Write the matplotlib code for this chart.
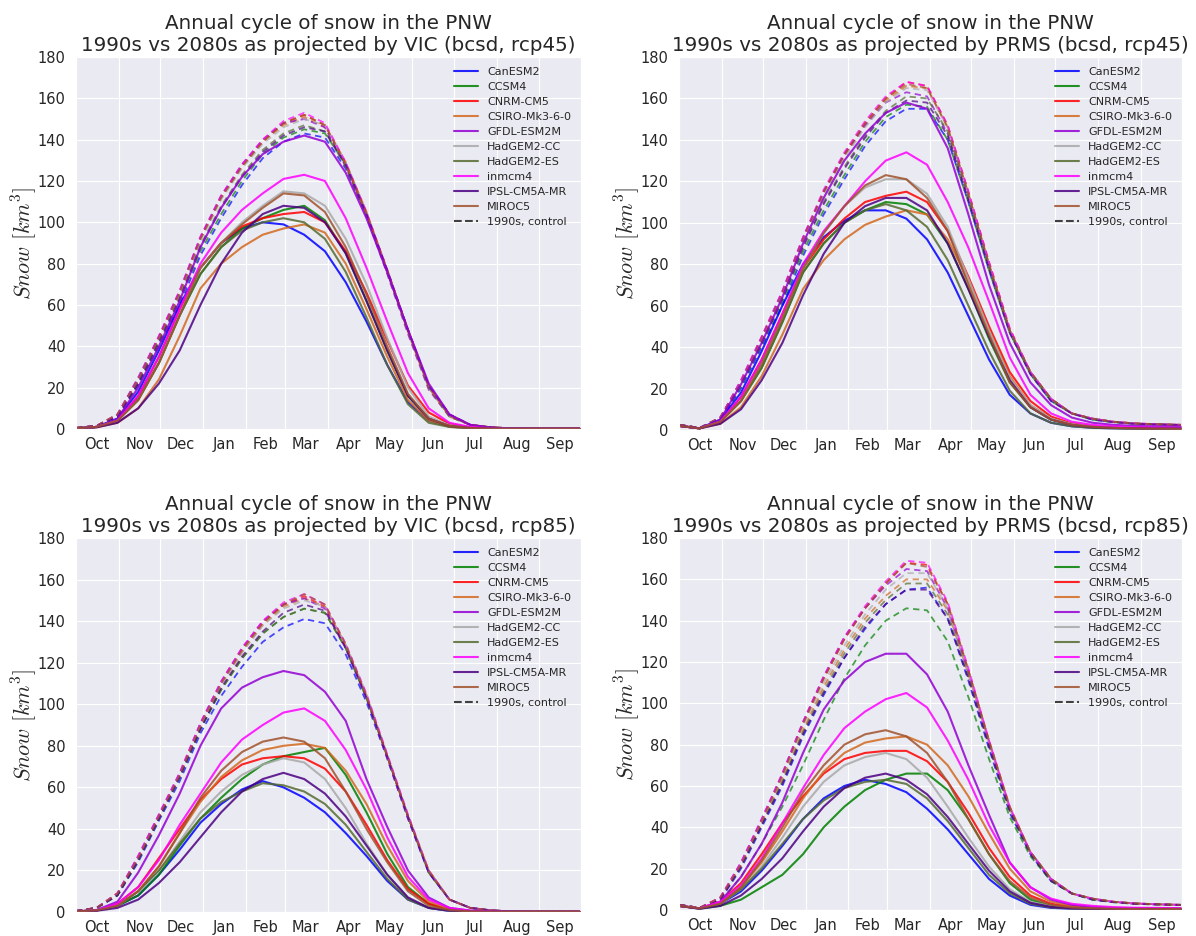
"""
plot.py — Annual cycle of PNW snow volume, 1990s control vs 2080s projections.

Four panels: VIC / PRMS hydrology models under rcp45 and rcp85 (bcsd downscaling).
"""

import matplotlib
matplotlib.use("Agg")
import matplotlib.pyplot as plt
import seaborn as sns
from matplotlib.lines import Line2D


# ──────────────────────────────────────────────────────────────────────
# DATA  (snow volume in km^3, sampled every ~15 days from 1 Oct)
# ──────────────────────────────────────────────────────────────────────

days = [0, 15, 30, 45, 60, 75, 90, 105, 120, 135, 150, 165, 180,
        195, 210, 225, 240, 255, 270, 285, 300, 315, 330, 345, 364]

month_starts = [0, 31, 61, 92, 123, 151, 182, 212, 243, 273, 304, 335, 365]
month_mids = [15, 46, 76, 107, 137, 166, 197, 227, 258, 288, 319, 350]
month_names = ["Oct", "Nov", "Dec", "Jan", "Feb", "Mar",
               "Apr", "May", "Jun", "Jul", "Aug", "Sep"]

models = ["CanESM2", "CCSM4", "CNRM-CM5", "CSIRO-Mk3-6-0", "GFDL-ESM2M",
          "HadGEM2-CC", "HadGEM2-ES", "inmcm4", "IPSL-CM5A-MR", "MIROC5"]
colors = ["blue", "green", "red", "chocolate", "darkviolet",
          "darkgray", "darkolivegreen", "magenta", "indigo", "sienna"]

# VIC, rcp45
vic45_2080s = {
    "CanESM2":       [0.3, 1, 5, 18, 38, 60, 78, 90, 97, 100, 99, 94, 86, 71, 52, 31, 13, 4, 1.2, 0.4, 0.2, 0.1, 0.1, 0.1, 0.1],
    "CCSM4":         [0.3, 1, 4, 15, 32, 55, 75, 88, 97, 102, 106, 108, 101, 85, 62, 38, 16, 5, 1.5, 0.5, 0.2, 0.1, 0.1, 0.1, 0.1],
    "CNRM-CM5":      [0.3, 1, 4, 16, 35, 58, 78, 90, 98, 102, 104, 105, 100, 86, 66, 43, 21, 8, 2.5, 0.8, 0.3, 0.1, 0.1, 0.1, 0.1],
    "CSIRO-Mk3-6-0": [0.3, 0.8, 3, 10, 24, 45, 68, 80, 88, 94, 97, 99, 95, 80, 58, 35, 14, 4, 1, 0.4, 0.2, 0.1, 0.1, 0.1, 0.1],
    "GFDL-ESM2M":    [0.3, 1, 5, 20, 40, 62, 88, 107, 122, 133, 139, 142, 139, 124, 102, 76, 48, 22, 7, 2, 0.6, 0.2, 0.1, 0.1, 0.1],
    "HadGEM2-CC":    [0.3, 1, 4, 14, 32, 55, 78, 90, 100, 108, 115, 114, 108, 92, 70, 44, 20, 6, 1.8, 0.6, 0.2, 0.1, 0.1, 0.1, 0.1],
    "HadGEM2-ES":    [0.3, 1, 4, 14, 32, 55, 75, 88, 96, 100, 102, 100, 92, 76, 54, 31, 12, 3, 1, 0.3, 0.1, 0.1, 0.1, 0.1, 0.1],
    "inmcm4":        [0.3, 1, 4, 16, 35, 58, 80, 95, 106, 114, 121, 123, 120, 102, 78, 52, 27, 10, 3, 1, 0.3, 0.1, 0.1, 0.1, 0.1],
    "IPSL-CM5A-MR":  [0.3, 0.8, 3, 10, 22, 38, 60, 80, 95, 104, 108, 107, 100, 85, 62, 38, 16, 5, 1.5, 0.5, 0.2, 0.1, 0.1, 0.1, 0.1],
    "MIROC5":        [0.3, 1, 4, 14, 32, 55, 78, 90, 99, 107, 114, 113, 105, 88, 65, 40, 17, 5, 1.5, 0.5, 0.2, 0.1, 0.1, 0.1, 0.1],
}
vic45_1990s = {
    "CanESM2":       [0.5, 1.5, 6, 21, 40, 60, 84, 102, 118, 131, 139, 143, 141, 126, 103, 76, 48, 21, 7, 2, 0.8, 0.3, 0.2, 0.2, 0.2],
    "CCSM4":         [0.5, 1.5, 6, 22, 41, 62, 86, 104, 120, 133, 141, 145, 143, 128, 104, 77, 48, 21, 7, 2, 0.8, 0.3, 0.2, 0.2, 0.2],
    "CNRM-CM5":      [0.5, 1.5, 7, 24, 44, 66, 92, 112, 127, 139, 148, 152, 147, 129, 105, 77, 48, 21, 7, 2, 0.8, 0.3, 0.2, 0.2, 0.2],
    "CSIRO-Mk3-6-0": [0.5, 1.5, 7, 24, 44, 66, 92, 112, 127, 139, 147, 151, 146, 128, 104, 76, 47, 20, 6, 2, 0.8, 0.3, 0.2, 0.2, 0.2],
    "GFDL-ESM2M":    [0.5, 1.5, 7, 25, 45, 67, 93, 113, 128, 140, 148, 150, 146, 127, 103, 75, 46, 19, 6, 2, 0.8, 0.3, 0.2, 0.2, 0.2],
    "HadGEM2-CC":    [0.5, 1.5, 7, 23, 43, 65, 91, 111, 126, 138, 146, 150, 147, 129, 105, 77, 48, 21, 7, 2, 0.8, 0.3, 0.2, 0.2, 0.2],
    "HadGEM2-ES":    [0.5, 1.5, 7, 23, 43, 64, 89, 108, 123, 135, 143, 147, 144, 127, 104, 76, 47, 20, 6, 2, 0.8, 0.3, 0.2, 0.2, 0.2],
    "inmcm4":        [0.5, 1.5, 7, 24, 45, 67, 93, 113, 128, 140, 149, 153, 148, 129, 105, 77, 48, 21, 7, 2, 0.8, 0.3, 0.2, 0.2, 0.2],
    "IPSL-CM5A-MR":  [0.5, 1.5, 6, 22, 42, 63, 88, 107, 122, 134, 142, 146, 144, 128, 104, 77, 48, 21, 7, 2, 0.8, 0.3, 0.2, 0.2, 0.2],
    "MIROC5":        [0.5, 1.5, 7, 24, 44, 66, 92, 112, 127, 139, 148, 152, 147, 128, 104, 76, 47, 20, 6, 2, 0.8, 0.3, 0.2, 0.2, 0.2],
}

# PRMS, rcp45
prms45_2080s = {
    "CanESM2":       [2, 0.8, 5, 18, 38, 60, 80, 93, 101, 106, 106, 102, 92, 76, 55, 34, 17, 8, 3.5, 1.8, 1.1, 0.8, 0.7, 0.6, 0.6],
    "CCSM4":         [2, 0.8, 4, 14, 30, 52, 76, 90, 100, 106, 110, 109, 104, 90, 68, 44, 23, 11, 5, 2.5, 1.4, 1, 0.8, 0.7, 0.7],
    "CNRM-CM5":      [2, 0.8, 4, 16, 34, 56, 78, 92, 102, 110, 113, 115, 110, 96, 74, 50, 28, 14, 6.5, 3.2, 1.8, 1.2, 1, 0.9, 0.8],
    "CSIRO-Mk3-6-0": [2, 0.8, 3, 11, 26, 46, 68, 82, 92, 99, 103, 106, 104, 92, 72, 48, 26, 12, 5.5, 2.8, 1.6, 1.1, 0.9, 0.8, 0.7],
    "GFDL-ESM2M":    [2, 0.8, 5, 22, 42, 64, 90, 112, 130, 143, 153, 158, 155, 136, 104, 70, 42, 23, 12, 6, 3.5, 2.5, 2, 1.8, 1.6],
    "HadGEM2-CC":    [2, 0.8, 4, 14, 32, 54, 78, 95, 108, 117, 121, 121, 114, 98, 73, 48, 25, 12, 5.5, 2.8, 1.6, 1.1, 0.9, 0.8, 0.7],
    "HadGEM2-ES":    [2, 0.8, 4, 14, 30, 52, 76, 90, 100, 106, 109, 106, 98, 82, 60, 38, 19, 8, 3.5, 1.8, 1, 0.8, 0.7, 0.6, 0.6],
    "inmcm4":        [2, 0.8, 4, 16, 34, 56, 80, 96, 108, 120, 130, 134, 128, 110, 88, 62, 35, 17, 8, 4, 2.5, 1.8, 1.4, 1.2, 1],
    "IPSL-CM5A-MR":  [2, 0.8, 3, 10, 24, 42, 65, 85, 100, 108, 112, 112, 106, 90, 68, 45, 24, 11, 5, 2.5, 1.4, 1, 0.8, 0.7, 0.7],
    "MIROC5":        [2, 0.8, 4, 14, 32, 54, 78, 95, 108, 118, 123, 121, 112, 96, 70, 46, 23, 11, 5, 2.5, 1.5, 1, 0.8, 0.7, 0.6],
}
prms45_1990s = {
    "CanESM2":       [2.5, 1, 5, 20, 40, 60, 84, 104, 121, 137, 149, 155, 155, 140, 110, 77, 47, 27, 14, 8, 5, 3.8, 3, 2.7, 2.4],
    "CCSM4":         [2.5, 1, 5, 21, 41, 62, 86, 106, 123, 139, 151, 157, 156, 140, 110, 77, 47, 27, 14, 8, 5, 3.8, 3, 2.7, 2.4],
    "CNRM-CM5":      [2.5, 1, 6, 23, 44, 66, 92, 115, 133, 148, 160, 168, 166, 147, 115, 81, 49, 28, 15, 8, 5.5, 4, 3.2, 2.8, 2.5],
    "CSIRO-Mk3-6-0": [2.5, 1, 6, 23, 44, 66, 92, 114, 132, 147, 159, 166, 165, 146, 114, 80, 48, 28, 15, 8, 5.5, 4, 3.2, 2.8, 2.5],
    "GFDL-ESM2M":    [2.5, 1, 6, 24, 45, 67, 93, 115, 133, 147, 158, 163, 161, 143, 112, 79, 48, 28, 15, 8, 5.5, 4, 3.2, 2.8, 2.5],
    "HadGEM2-CC":    [2.5, 1, 6, 23, 43, 65, 91, 113, 131, 146, 158, 165, 164, 146, 114, 80, 48, 28, 15, 8, 5.5, 4, 3.2, 2.8, 2.5],
    "HadGEM2-ES":    [2.5, 1, 6, 22, 42, 64, 89, 110, 127, 142, 154, 161, 160, 144, 113, 79, 48, 28, 15, 8, 5.5, 4, 3.2, 2.8, 2.5],
    "inmcm4":        [2.5, 1, 6, 24, 45, 67, 93, 116, 134, 149, 161, 168, 166, 147, 115, 81, 49, 28, 15, 8, 5.5, 4, 3.2, 2.8, 2.5],
    "IPSL-CM5A-MR":  [2.5, 1, 5, 22, 42, 63, 88, 109, 126, 141, 153, 159, 158, 142, 111, 78, 47, 27, 14, 8, 5, 3.8, 3, 2.7, 2.4],
    "MIROC5":        [2.5, 1, 6, 23, 44, 66, 92, 115, 133, 148, 160, 167, 165, 146, 114, 80, 48, 28, 15, 8, 5.5, 4, 3.2, 2.8, 2.5],
}

# VIC, rcp85
vic85_2080s = {
    "CanESM2":       [0.3, 0.8, 3, 8, 18, 30, 43, 52, 59, 63, 60, 55, 48, 38, 27, 15, 6, 2, 0.5, 0.2, 0.1, 0.1, 0.1, 0.1, 0.1],
    "CCSM4":         [0.3, 0.8, 3, 8, 18, 32, 45, 55, 64, 71, 75, 77, 79, 66, 48, 28, 12, 4, 1, 0.3, 0.1, 0.1, 0.1, 0.1, 0.1],
    "CNRM-CM5":      [0.3, 0.8, 4, 12, 26, 40, 54, 64, 71, 74, 75, 74, 69, 58, 42, 25, 11, 4, 1.2, 0.4, 0.1, 0.1, 0.1, 0.1, 0.1],
    "CSIRO-Mk3-6-0": [0.3, 0.8, 3, 10, 22, 38, 53, 65, 73, 78, 80, 81, 79, 68, 52, 32, 15, 5, 1.5, 0.5, 0.1, 0.1, 0.1, 0.1, 0.1],
    "GFDL-ESM2M":    [0.3, 1, 5, 19, 37, 57, 80, 98, 108, 113, 116, 114, 106, 92, 64, 41, 20, 7, 2, 0.7, 0.3, 0.2, 0.1, 0.1, 0.1],
    "HadGEM2-CC":    [0.3, 0.8, 3, 10, 20, 34, 48, 58, 66, 71, 74, 72, 64, 50, 33, 18, 7, 2, 0.8, 0.3, 0.1, 0.1, 0.1, 0.1, 0.1],
    "HadGEM2-ES":    [0.3, 0.8, 3, 10, 20, 33, 45, 53, 58, 62, 61, 58, 52, 42, 29, 16, 6, 2, 0.6, 0.2, 0.1, 0.1, 0.1, 0.1, 0.1],
    "inmcm4":        [0.3, 0.8, 4, 12, 25, 42, 57, 72, 83, 90, 96, 98, 92, 78, 59, 36, 17, 6, 2, 0.6, 0.2, 0.1, 0.1, 0.1, 0.1],
    "IPSL-CM5A-MR":  [0.3, 0.6, 2, 6, 14, 24, 36, 48, 58, 64, 67, 64, 57, 46, 32, 18, 7, 2, 0.7, 0.2, 0.1, 0.1, 0.1, 0.1, 0.1],
    "MIROC5":        [0.3, 0.8, 3, 10, 22, 38, 55, 68, 77, 82, 84, 82, 74, 58, 40, 24, 10, 3, 1, 0.3, 0.1, 0.1, 0.1, 0.1, 0.1],
}
vic85_1990s = {
    "CanESM2":       [0.5, 2, 8, 24, 44, 63, 86, 104, 118, 130, 137, 141, 139, 124, 101, 74, 45, 19, 6, 2, 0.8, 0.3, 0.2, 0.2, 0.2],
    "CCSM4":         [0.5, 2, 8, 25, 45, 65, 88, 107, 122, 134, 142, 146, 144, 127, 103, 75, 46, 19, 6, 2, 0.8, 0.3, 0.2, 0.2, 0.2],
    "CNRM-CM5":      [0.5, 2, 9, 26, 46, 66, 90, 110, 126, 139, 148, 152, 147, 128, 104, 75, 46, 20, 6, 2, 0.8, 0.3, 0.2, 0.2, 0.2],
    "CSIRO-Mk3-6-0": [0.5, 2, 9, 26, 46, 66, 90, 110, 125, 138, 147, 151, 147, 128, 104, 75, 46, 20, 6, 2, 0.8, 0.3, 0.2, 0.2, 0.2],
    "GFDL-ESM2M":    [0.5, 2, 9, 27, 47, 67, 91, 111, 127, 140, 148, 151, 146, 127, 103, 74, 45, 19, 6, 2, 0.8, 0.3, 0.2, 0.2, 0.2],
    "HadGEM2-CC":    [0.5, 2, 9, 26, 46, 66, 90, 110, 125, 138, 146, 150, 147, 129, 105, 76, 47, 20, 6, 2, 0.8, 0.3, 0.2, 0.2, 0.2],
    "HadGEM2-ES":    [0.5, 2, 8, 25, 45, 65, 88, 107, 122, 134, 142, 146, 144, 127, 103, 75, 46, 19, 6, 2, 0.8, 0.3, 0.2, 0.2, 0.2],
    "inmcm4":        [0.5, 2, 9, 27, 47, 67, 91, 111, 127, 140, 149, 153, 148, 129, 105, 76, 47, 20, 6, 2, 0.8, 0.3, 0.2, 0.2, 0.2],
    "IPSL-CM5A-MR":  [0.5, 2, 8, 25, 45, 65, 88, 108, 123, 135, 144, 148, 145, 127, 103, 75, 46, 19, 6, 2, 0.8, 0.3, 0.2, 0.2, 0.2],
    "MIROC5":        [0.5, 2, 9, 26, 46, 66, 90, 110, 126, 139, 148, 153, 148, 129, 104, 75, 46, 20, 6, 2, 0.8, 0.3, 0.2, 0.2, 0.2],
}

# PRMS, rcp85
prms85_2080s = {
    "CanESM2":       [2, 0.7, 3, 9, 19, 31, 44, 54, 60, 63, 61, 57, 49, 39, 27, 15, 7, 2.5, 1, 0.6, 0.5, 0.4, 0.4, 0.4, 0.4],
    "CCSM4":         [2, 0.6, 2, 5, 11, 17, 27, 40, 50, 58, 63, 66, 66, 58, 44, 27, 13, 5, 2, 1, 0.6, 0.5, 0.5, 0.4, 0.4],
    "CNRM-CM5":      [2, 0.8, 4, 13, 27, 42, 55, 66, 73, 76, 77, 77, 72, 62, 47, 30, 16, 7, 3, 1.5, 0.9, 0.7, 0.6, 0.6, 0.5],
    "CSIRO-Mk3-6-0": [2, 0.8, 3, 11, 23, 38, 54, 67, 76, 81, 83, 84, 80, 70, 55, 37, 20, 9, 4, 2, 1.2, 0.9, 0.8, 0.7, 0.7],
    "GFDL-ESM2M":    [2, 0.8, 4, 16, 32, 52, 76, 97, 111, 120, 124, 124, 114, 96, 70, 46, 23, 11, 5, 2.5, 1.5, 1, 0.9, 0.8, 0.8],
    "HadGEM2-CC":    [2, 0.8, 3, 10, 21, 35, 50, 62, 70, 74, 76, 73, 64, 50, 35, 21, 10, 4, 1.8, 0.9, 0.6, 0.5, 0.5, 0.4, 0.4],
    "HadGEM2-ES":    [2, 0.8, 3, 10, 20, 32, 44, 53, 59, 62, 63, 61, 54, 43, 30, 17, 8, 3, 1.2, 0.7, 0.5, 0.4, 0.4, 0.4, 0.4],
    "inmcm4":        [2, 0.8, 4, 12, 25, 42, 59, 75, 88, 96, 102, 105, 98, 82, 63, 41, 23, 11, 5.5, 3, 2, 1.4, 1.1, 1, 0.9],
    "IPSL-CM5A-MR":  [2, 0.6, 2, 7, 15, 25, 38, 50, 59, 64, 66, 63, 56, 45, 32, 19, 9, 3.5, 1.5, 0.8, 0.5, 0.4, 0.4, 0.4, 0.4],
    "MIROC5":        [2, 0.8, 3, 11, 24, 40, 57, 70, 80, 85, 87, 84, 76, 62, 44, 27, 14, 6, 2.5, 1.2, 0.8, 0.6, 0.5, 0.5, 0.5],
}
prms85_1990s = {
    "CanESM2":       [2.5, 1, 5, 20, 40, 60, 84, 104, 122, 136, 148, 155, 156, 141, 111, 78, 47, 27, 14, 8, 5, 3.8, 3, 2.7, 2.4],
    "CCSM4":         [2.5, 1, 4, 16, 32, 50, 70, 92, 112, 128, 140, 146, 145, 130, 103, 73, 45, 26, 14, 8, 5, 3.8, 3, 2.7, 2.4],
    "CNRM-CM5":      [2.5, 1, 6, 22, 43, 65, 90, 112, 131, 146, 158, 168, 167, 148, 116, 82, 50, 28, 15, 8, 5.5, 4, 3.2, 2.8, 2.5],
    "CSIRO-Mk3-6-0": [2.5, 1, 6, 21, 42, 63, 87, 108, 126, 141, 152, 160, 160, 145, 114, 81, 49, 28, 15, 8, 5.5, 4, 3.2, 2.8, 2.5],
    "GFDL-ESM2M":    [2.5, 1, 6, 23, 44, 66, 91, 113, 132, 146, 157, 165, 164, 146, 115, 81, 49, 28, 15, 8, 5.5, 4, 3.2, 2.8, 2.5],
    "HadGEM2-CC":    [2.5, 1, 6, 22, 43, 64, 89, 110, 128, 143, 155, 163, 163, 146, 115, 81, 49, 28, 15, 8, 5.5, 4, 3.2, 2.8, 2.5],
    "HadGEM2-ES":    [2.5, 1, 5, 21, 41, 62, 86, 106, 124, 139, 150, 158, 158, 143, 113, 80, 48, 28, 15, 8, 5.5, 4, 3.2, 2.8, 2.5],
    "inmcm4":        [2.5, 1, 6, 23, 44, 66, 91, 113, 132, 147, 159, 169, 168, 149, 117, 82, 50, 28, 15, 8, 5.5, 4, 3.2, 2.8, 2.5],
    "IPSL-CM5A-MR":  [2.5, 1, 5, 21, 41, 61, 85, 105, 122, 137, 148, 155, 155, 141, 112, 79, 48, 27, 14, 8, 5, 3.8, 3, 2.7, 2.4],
    "MIROC5":        [2.5, 1, 6, 22, 43, 65, 90, 112, 131, 146, 158, 168, 166, 148, 116, 82, 50, 28, 15, 8, 5.5, 4, 3.2, 2.8, 2.5],
}


# ──────────────────────────────────────────────────────────────────────
# PLOTTING
# ──────────────────────────────────────────────────────────────────────

sns.set_style("darkgrid")
plt.rcParams["font.family"] = ["DejaVu Sans"]
plt.rcParams["mathtext.fontset"] = "cm"


def plot_panel(ax, future, control, hydro, scenario):
    """Draw one panel: solid 2080s lines, dashed 1990s control lines."""
    for name, color in zip(models, colors):
        ax.plot(days, control[name], color=color, lw=1.3, ls="--",
                dashes=(3.5, 2.5), alpha=0.7)
    for name, color in zip(models, colors):
        ax.plot(days, future[name], color=color, lw=1.5, alpha=0.85, label=name)

    ax.set_xlim(0, 365)
    ax.set_ylim(0, 180)
    ax.set_yticks(range(0, 181, 20))
    ax.set_xticks(month_starts)
    ax.set_xticklabels([])
    ax.set_xticks(month_mids, minor=True)
    ax.set_xticklabels(month_names, minor=True)
    ax.tick_params(axis="x", which="both", length=0, pad=6, labelsize=10.5)
    ax.tick_params(axis="y", labelsize=10.5, pad=4)

    ax.set_ylabel(r"$Snow\ [km^3]$", fontsize=16)
    ax.yaxis.set_label_coords(-0.074, 0.5)
    ax.set_title("Annual cycle of snow in the PNW\n"
                 f"1990s vs 2080s as projected by {hydro} (bcsd, {scenario})",
                 fontsize=14.3, pad=4, linespacing=1.2)

    handles, labels = ax.get_legend_handles_labels()
    handles.append(Line2D([], [], color="0.25", ls="--", lw=1.5))
    labels.append("1990s, control")
    ax.legend(handles, labels, loc="upper right", fontsize=8,
              frameon=False, handlelength=2.2, labelspacing=0.45)


fig = plt.figure(figsize=(11.96, 9.36), dpi=100)

ax1 = fig.add_axes([0.0635, 0.5417, 0.4222, 0.3974])
ax2 = fig.add_axes([0.5677, 0.5406, 0.4206, 0.3985])
ax3 = fig.add_axes([0.0635, 0.0256, 0.4222, 0.3996])
ax4 = fig.add_axes([0.5677, 0.0278, 0.4206, 0.3974])

plot_panel(ax1, vic45_2080s, vic45_1990s, "VIC", "rcp45")
plot_panel(ax2, prms45_2080s, prms45_1990s, "PRMS", "rcp45")
plot_panel(ax3, vic85_2080s, vic85_1990s, "VIC", "rcp85")
plot_panel(ax4, prms85_2080s, prms85_1990s, "PRMS", "rcp85")

fig.savefig("out.png", dpi=100)
